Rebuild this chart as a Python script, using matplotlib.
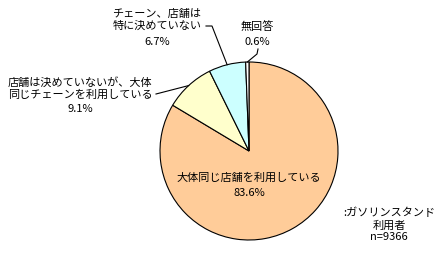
import numpy as np
import matplotlib
matplotlib.use("Agg")
import matplotlib.pyplot as plt
from matplotlib.lines import Line2D

plt.rcParams['font.family'] = ['Noto Sans CJK JP', 'DejaVu Sans']

labels = ["大体同じ店舗を利用している", "店舗は決めていないが、大体\n同じチェーンを利用している",
          "チェーン、店舗は\n特に決めていない", "無回答"]
values = [83.6, 9.1, 6.7, 0.6]
colors = ["#FFCC99", "#FFFFCC", "#CCFFFF", "#FFFFFF"]
note = ":ガソリンスタンド\n利用者\nn=9366"

W, H = 439, 255
fig = plt.figure(figsize=(W / 100, H / 100), dpi=100)
fig.patch.set_facecolor("white")

cx, cy, R = 249, 152, 89  # pixel geometry of the pie

def fx(x):
    return x / W

def fy(y):
    return 1 - y / H

ax = fig.add_axes([fx(cx - R), fy(cy + R), 2 * R / W, 2 * R / H])
wedges, _ = ax.pie(values, colors=colors, startangle=90, counterclock=False,
                   wedgeprops=dict(edgecolor="black", linewidth=0.8))
ax.set_xlim(-1, 1)
ax.set_ylim(-1, 1)
ax.set_aspect("auto")
ax.axis("off")

def edge_px(i):
    w = wedges[i]
    a = np.deg2rad((w.theta1 + w.theta2) / 2)
    return cx + R * np.cos(a), cy - R * np.sin(a)

fs = 8
# main slice label
fig.text(fx(249), fy(178), labels[0], ha="center", va="center", fontsize=fs)
fig.text(fx(249), fy(193), f"{values[0]}%", ha="center", va="center", fontsize=fs)

# second slice
fig.text(fx(80), fy(88), labels[1], ha="center", va="center", fontsize=fs, linespacing=1.2)
fig.text(fx(80), fy(109), f"{values[1]}%", ha="center", va="center", fontsize=fs)
ex, ey = edge_px(1)
fig.add_artist(Line2D([fx(156), fx(ex)], [fy(95), fy(ey)], color="black", lw=0.8))

# third slice
fig.text(fx(157), fy(20), labels[2], ha="center", va="center", fontsize=fs, linespacing=1.2)
fig.text(fx(157), fy(42), f"{values[2]}%", ha="center", va="center", fontsize=fs)
ex, ey = edge_px(2)
fig.add_artist(Line2D([fx(206), fx(212), fx(ex)], [fy(27), fy(27), fy(ey)], color="black", lw=0.8))

# fourth slice
fig.text(fx(257), fy(27), labels[3], ha="center", va="center", fontsize=fs)
fig.text(fx(257), fy(42), f"{values[3]}%", ha="center", va="center", fontsize=fs)
ex, ey = edge_px(3)
fig.add_artist(Line2D([fx(258), fx(257), fx(ex)], [fy(50), fy(55), fy(ey)], color="black", lw=0.8))

# note
fig.text(fx(389), fy(225), note, ha="center", va="center", fontsize=fs, linespacing=1.2)

fig.savefig("out.png", dpi=100, facecolor="white")
